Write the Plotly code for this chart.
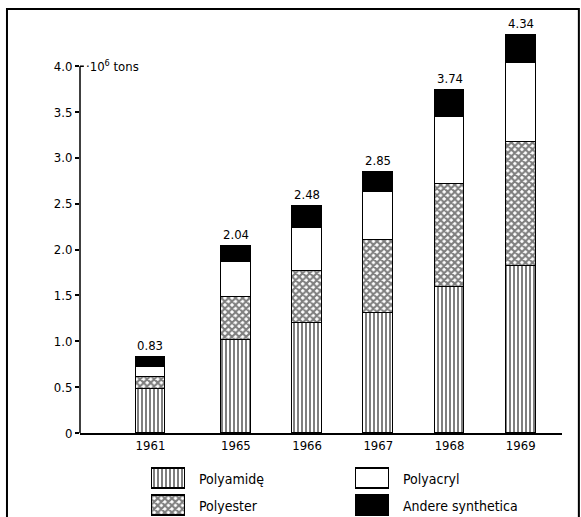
import plotly.graph_objects as go

years = ['1961', '1965', '1966', '1967', '1968', '1969']
polyamide = [0.48, 1.01, 1.20, 1.31, 1.59, 1.82]
polyester = [0.13, 0.47, 0.57, 0.79, 1.13, 1.35]
polyacryl = [0.11, 0.38, 0.47, 0.53, 0.73, 0.86]
andere = [0.11, 0.18, 0.24, 0.22, 0.29, 0.31]
totals = [0.83, 2.04, 2.48, 2.85, 3.74, 4.34]
y_ticks = [0, 0.5, 1.0, 1.5, 2.0, 2.5, 3.0, 3.5, 4.0]
y_ticklabels = ['0', '0.5', '1.0', '1.5', '2.0', '2.5', '3.0', '3.5', '4.0']

# 1961 stands a bit further from the others (gap year) -> slots on a numeric axis
slots = [0, 1.2, 2.2, 3.2, 4.2, 5.2]

FONT = 'DejaVu Sans Condensed, DejaVu Sans, sans-serif'
LINE = dict(color='black', width=1.5)

styles = {
    'Polyamidę': dict(color='white', line=LINE,
                      pattern=dict(shape='|', fgcolor='black', bgcolor='white', size=4, solidity=0.5)),
    'Polyester': dict(color='white', line=LINE,
                      pattern=dict(shape='x', fgcolor='black', bgcolor='white', size=5, solidity=0.65)),
    'Polyacryl': dict(color='white', line=LINE),
    'Andere synthetica': dict(color='black', line=LINE),
}
series = [('Polyamidę', polyamide), ('Polyester', polyester),
          ('Polyacryl', polyacryl), ('Andere synthetica', andere)]

fig = go.Figure()
for name, vals in series:
    fig.add_trace(go.Bar(x=slots, y=vals, name=name, width=0.42,
                         marker=styles[name], showlegend=False,
                         xaxis='x', yaxis='y'))

# totals above the bars
for s, t in zip(slots, totals):
    fig.add_annotation(x=s, y=t, text=f'{t:.2f}', showarrow=False,
                       yanchor='bottom', yshift=2, font=dict(size=13, color='black'))

fig.add_annotation(x=0, y=4.0, xref='paper', yref='y', text='·10<sup>6</sup> tons',
                   showarrow=False, xanchor='left', xshift=4, font=dict(size=13, color='black'))

# legend drawn as a tiny subplot in pixel-like units
legend_items = [('Polyamidę', 152, 479), ('Polyacryl', 356, 479),
                ('Polyester', 152, 506), ('Andere synthetica', 356, 506)]
for name, x0, yrow in legend_items:
    fig.add_trace(go.Bar(x=[33], base=[x0], y=[yrow], orientation='h', width=20,
                         marker=styles[name], showlegend=False, hoverinfo='skip',
                         xaxis='x2', yaxis='y2'))
    fig.add_annotation(x=x0 + 45, y=yrow, xref='x2', yref='y2', text=name,
                       showarrow=False, xanchor='left', font=dict(size=14, color='black'))

# y axis line only up to 4.0, with the little hook to the right at the top
fig.add_shape(type='line', xref='paper', yref='y', x0=0, x1=0, y0=0, y1=4.0,
              line=dict(color='black', width=1.5))
fig.add_shape(type='line', xref='paper', yref='y', x0=0, x1=0.008, y0=4.0, y1=4.0,
              line=dict(color='black', width=1.5))
# outer frame of the figure
fig.add_shape(type='rect', xref='paper', yref='paper', x0=-0.1515, x1=1.035, y0=-0.1, y1=0.998,
              line=dict(color='black', width=2), fillcolor='rgba(0,0,0,0)')

fig.update_layout(
    width=581, height=517,
    margin=dict(l=80, r=19, t=8, b=0, autoexpand=False),
    paper_bgcolor='white', plot_bgcolor='white',
    font=dict(family=FONT, color='black'),
    barmode='stack', bargap=0,
    xaxis=dict(domain=[0, 1], range=[-0.99, 5.78], tickvals=slots, ticktext=years,
               showline=True, linecolor='black', linewidth=1.5, ticks='',
               showgrid=False, zeroline=False, tickfont=dict(size=13), automargin=False),
    yaxis=dict(domain=[0.165, 1], range=[0, 4.635], tickvals=y_ticks, ticktext=y_ticklabels,
               ticks='outside', ticklen=4, tickcolor='black', tickwidth=1.5,
               showline=False, showgrid=False, zeroline=False, tickfont=dict(size=13),
               automargin=False),
    xaxis2=dict(domain=[0, 1], range=[80, 562], visible=False, anchor='y2', automargin=False),
    yaxis2=dict(domain=[0, 0.12], range=[517, 456], visible=False, anchor='x2', automargin=False),
)

# page body has a default 8px margin; drop it so the figure sits at the window corner
fig.write_html('out.html', config={'displayModeBar': False},
               post_script="document.body.style.margin='0';document.body.style.overflow='hidden';")
